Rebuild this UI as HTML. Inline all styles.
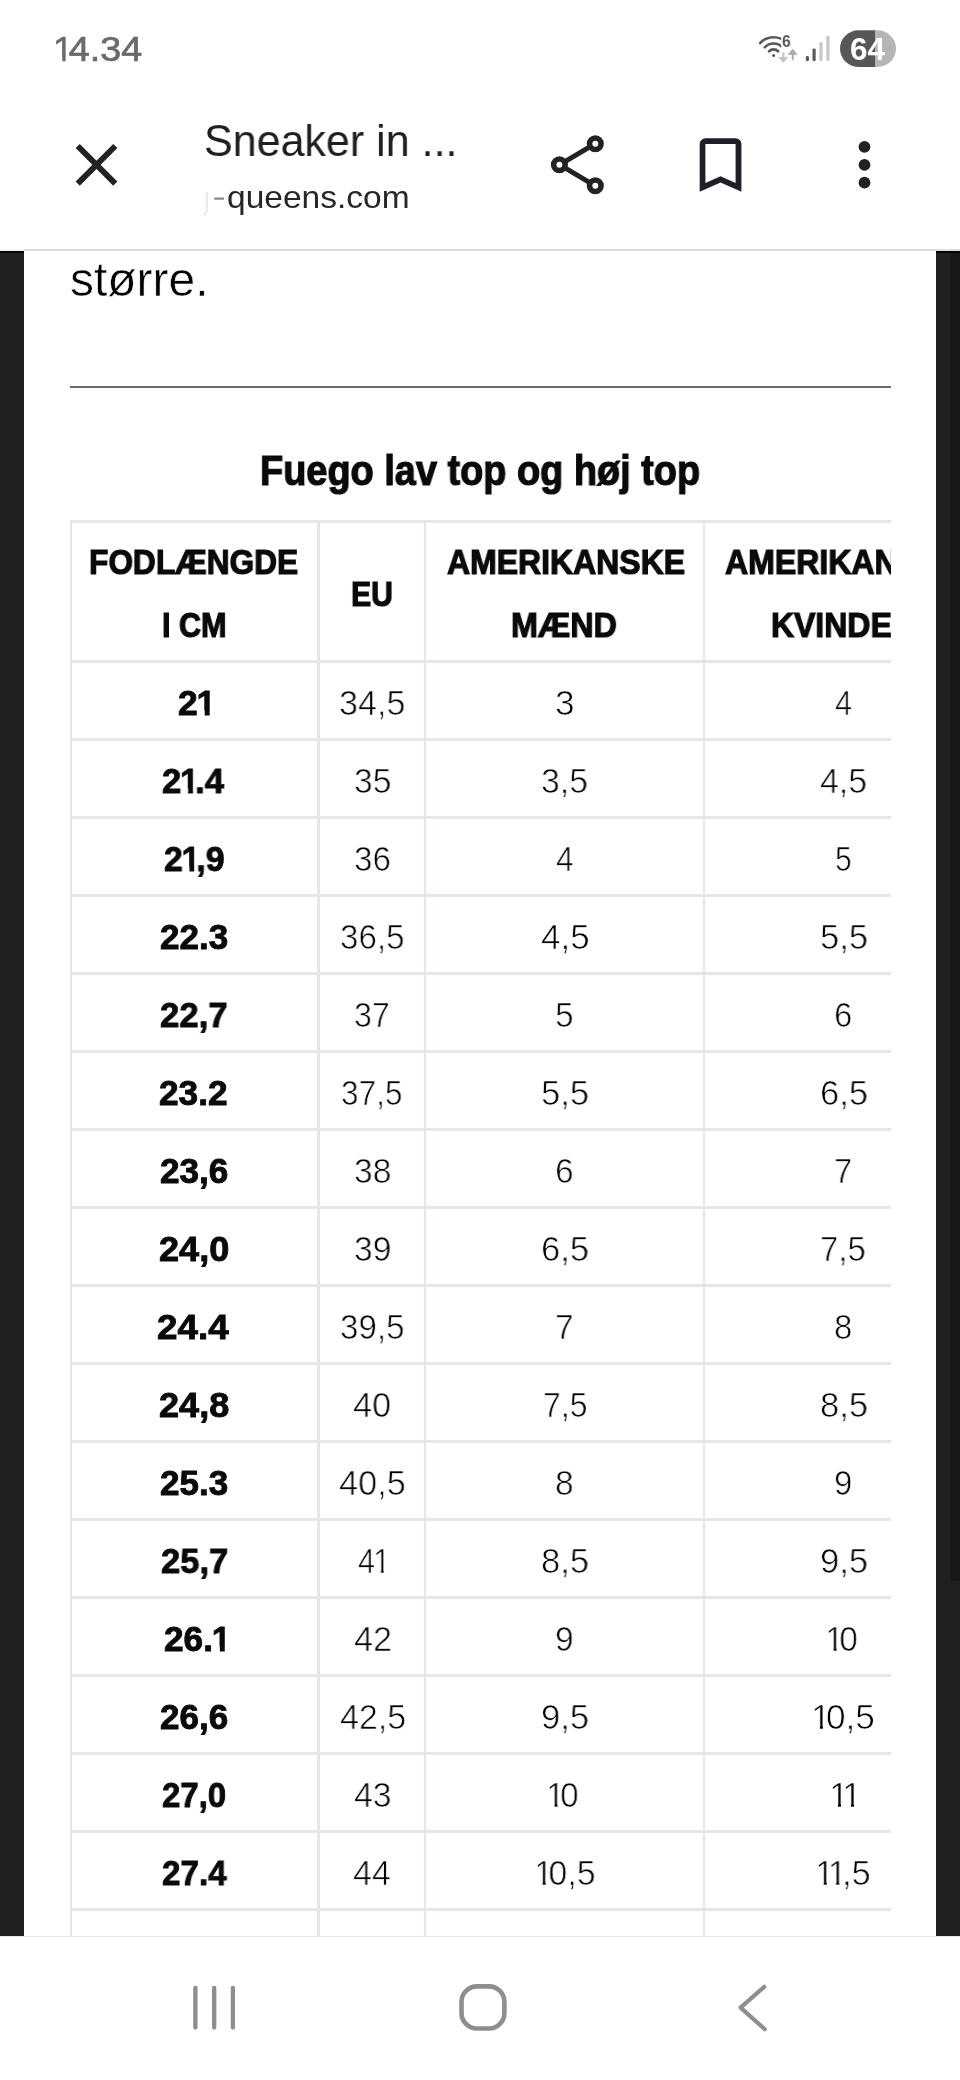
<!DOCTYPE html>
<html><head><meta charset="utf-8"><title>Sneaker in ...</title>
<style>
html,body{margin:0;padding:0;}
body{width:960px;height:2080px;position:relative;overflow:hidden;background:#fff;font-family:"Liberation Sans", sans-serif;}
.t{position:absolute;white-space:nowrap;line-height:1;transform-origin:0 0;will-change:transform;font-family:"Liberation Sans", sans-serif;}
.o,.ob{display:inline-block;}
.o{margin:0 -0.135em 0 -0.055em;clip-path:polygon(0 0,0.3395em 0,0.3395em 1.2em,0.2505em 1.2em,0.2505em 0.757em,0 0.757em);}
.ob{margin:0 -0.12em 0 -0.035em;clip-path:polygon(0 0,0.3705em 0,0.3705em 1.2em,0.2325em 1.2em,0.2325em 0.722em,0 0.722em);}
.ln{position:absolute;background:#e3e7e8;}
.abs{position:absolute;}
</style></head><body>
<!-- side bars -->
<div class="abs" style="left:0;top:251px;width:24px;height:1685px;background:#202020"></div>
<div class="abs" style="left:0;top:251px;width:24px;height:2px;background:#050505"></div>
<div class="abs" style="left:936px;top:251px;width:24px;height:1685px;background:#202020"></div>
<div class="abs" style="left:949.5px;top:251px;width:11px;height:1330px;background:#181818"></div>
<div class="abs" style="left:936px;top:251px;width:24px;height:2px;background:#050505"></div>
<!-- header divider -->
<div class="abs" style="left:0;top:248.6px;width:960px;height:2.6px;background:#d9dde3"></div>
<div class="abs" style="left:0;top:248.6px;width:24px;height:2.6px;background:#f0f2f5"></div>
<!-- hr -->
<div class="abs" style="left:70px;top:385.5px;width:820.5px;height:2.4px;background:#6c6c63"></div>
<!-- table clip -->
<div class="abs" style="left:0;top:0;width:890.6px;height:1936px;overflow:hidden">
<div class="ln" style="left:70px;top:519.8px;width:830px;height:2.8px"></div>
<div class="ln" style="left:70px;top:659.9px;width:830px;height:2.8px"></div>
<div class="ln" style="left:70px;top:737.9px;width:830px;height:2.8px"></div>
<div class="ln" style="left:70px;top:815.9px;width:830px;height:2.8px"></div>
<div class="ln" style="left:70px;top:893.9px;width:830px;height:2.8px"></div>
<div class="ln" style="left:70px;top:971.9px;width:830px;height:2.8px"></div>
<div class="ln" style="left:70px;top:1049.9px;width:830px;height:2.8px"></div>
<div class="ln" style="left:70px;top:1127.9px;width:830px;height:2.8px"></div>
<div class="ln" style="left:70px;top:1205.9px;width:830px;height:2.8px"></div>
<div class="ln" style="left:70px;top:1283.9px;width:830px;height:2.8px"></div>
<div class="ln" style="left:70px;top:1361.9px;width:830px;height:2.8px"></div>
<div class="ln" style="left:70px;top:1439.9px;width:830px;height:2.8px"></div>
<div class="ln" style="left:70px;top:1517.9px;width:830px;height:2.8px"></div>
<div class="ln" style="left:70px;top:1595.9px;width:830px;height:2.8px"></div>
<div class="ln" style="left:70px;top:1673.9px;width:830px;height:2.8px"></div>
<div class="ln" style="left:70px;top:1751.9px;width:830px;height:2.8px"></div>
<div class="ln" style="left:70px;top:1829.9px;width:830px;height:2.8px"></div>
<div class="ln" style="left:70px;top:1907.9px;width:830px;height:2.8px"></div>
<div class="ln" style="left:69.6px;top:520px;width:2.8px;height:1420px"></div>
<div class="ln" style="left:317.2px;top:520px;width:2.8px;height:1420px"></div>
<div class="ln" style="left:423.7px;top:520px;width:2.8px;height:1420px"></div>
<div class="ln" style="left:702.7px;top:520px;width:2.8px;height:1420px"></div>
<span class="t" style="left:89.49px;top:544.17px;font-size:35px;color:#0a0a0a;transform:scaleX(0.9038);-webkit-text-stroke:1.2px #0a0a0a;font-weight:bold;">FODLÆNGDE</span>
<span class="t" style="left:161.86px;top:606.87px;font-size:35px;color:#0a0a0a;transform:scaleX(0.8720);-webkit-text-stroke:1.2px #0a0a0a;font-weight:bold;">I CM</span>
<span class="t" style="left:350.58px;top:576.17px;font-size:35px;color:#0a0a0a;transform:scaleX(0.8623);-webkit-text-stroke:1.2px #0a0a0a;font-weight:bold;">EU</span>
<span class="t" style="left:446.60px;top:544.17px;font-size:35px;color:#0a0a0a;transform:scaleX(0.9135);-webkit-text-stroke:1.2px #0a0a0a;font-weight:bold;">AMERIKANSKE</span>
<span class="t" style="left:511.25px;top:606.87px;font-size:35px;color:#0a0a0a;transform:scaleX(0.9225);-webkit-text-stroke:1.2px #0a0a0a;font-weight:bold;">MÆND</span>
<span class="t" style="left:724.80px;top:544.17px;font-size:35px;color:#0a0a0a;transform:scaleX(0.9158);-webkit-text-stroke:1.2px #0a0a0a;font-weight:bold;">AMERIKANSKE</span>
<span class="t" style="left:771.27px;top:606.87px;font-size:35px;color:#0a0a0a;transform:scaleX(0.9134);-webkit-text-stroke:1.2px #0a0a0a;font-weight:bold;">KVINDER</span>
<span class="t" style="left:178.44px;top:685.37px;font-size:35px;color:#0a0a0a;transform:scaleX(1.0136);-webkit-text-stroke:0.9px #0a0a0a;font-weight:bold;">2<span class="ob">1</span></span>
<span class="t" style="left:339.43px;top:685.37px;font-size:35px;color:#000;transform:scaleX(0.9733);-webkit-text-stroke:0.7px #fff;">34,5</span>
<span class="t" style="left:554.69px;top:685.37px;font-size:35px;color:#000;transform:scaleX(1.0059);-webkit-text-stroke:0.7px #fff;">3</span>
<span class="t" style="left:834.70px;top:685.37px;font-size:35px;color:#000;transform:scaleX(0.8737);-webkit-text-stroke:0.7px #fff;">4</span>
<span class="t" style="left:161.96px;top:763.37px;font-size:35px;color:#0a0a0a;transform:scaleX(0.9899);-webkit-text-stroke:0.9px #0a0a0a;font-weight:bold;">2<span class="ob">1</span>.4</span>
<span class="t" style="left:353.74px;top:763.37px;font-size:35px;color:#000;transform:scaleX(0.9598);-webkit-text-stroke:0.7px #fff;">35</span>
<span class="t" style="left:541.23px;top:763.37px;font-size:35px;color:#000;transform:scaleX(0.9656);-webkit-text-stroke:0.7px #fff;">3,5</span>
<span class="t" style="left:819.70px;top:763.37px;font-size:35px;color:#000;transform:scaleX(0.9663);-webkit-text-stroke:0.7px #fff;">4,5</span>
<span class="t" style="left:163.88px;top:841.37px;font-size:35px;color:#0a0a0a;transform:scaleX(0.9652);-webkit-text-stroke:0.9px #0a0a0a;font-weight:bold;">2<span class="ob">1</span>,9</span>
<span class="t" style="left:353.75px;top:841.37px;font-size:35px;color:#000;transform:scaleX(0.9488);-webkit-text-stroke:0.7px #fff;">36</span>
<span class="t" style="left:555.70px;top:841.37px;font-size:35px;color:#000;transform:scaleX(0.9000);-webkit-text-stroke:0.7px #fff;">4</span>
<span class="t" style="left:834.84px;top:841.37px;font-size:35px;color:#000;transform:scaleX(0.8588);-webkit-text-stroke:0.7px #fff;">5</span>
<span class="t" style="left:159.75px;top:919.37px;font-size:35px;color:#0a0a0a;transform:scaleX(1.0022);-webkit-text-stroke:0.9px #0a0a0a;font-weight:bold;">22.3</span>
<span class="t" style="left:339.75px;top:919.37px;font-size:35px;color:#000;transform:scaleX(0.9459);-webkit-text-stroke:0.7px #fff;">36,5</span>
<span class="t" style="left:541.40px;top:919.37px;font-size:35px;color:#000;transform:scaleX(1.0002);-webkit-text-stroke:0.7px #fff;">4,5</span>
<span class="t" style="left:819.51px;top:919.37px;font-size:35px;color:#000;transform:scaleX(0.9872);-webkit-text-stroke:0.7px #fff;">5,5</span>
<span class="t" style="left:160.46px;top:997.37px;font-size:35px;color:#0a0a0a;transform:scaleX(0.9915);-webkit-text-stroke:0.9px #0a0a0a;font-weight:bold;">22,7</span>
<span class="t" style="left:354.38px;top:997.37px;font-size:35px;color:#000;transform:scaleX(0.9159);-webkit-text-stroke:0.7px #fff;">37</span>
<span class="t" style="left:554.74px;top:997.37px;font-size:35px;color:#000;transform:scaleX(0.9588);-webkit-text-stroke:0.7px #fff;">5</span>
<span class="t" style="left:834.16px;top:997.37px;font-size:35px;color:#000;transform:scaleX(0.9412);-webkit-text-stroke:0.7px #fff;">6</span>
<span class="t" style="left:159.44px;top:1075.37px;font-size:35px;color:#0a0a0a;transform:scaleX(1.0067);-webkit-text-stroke:0.9px #0a0a0a;font-weight:bold;">23.2</span>
<span class="t" style="left:341.30px;top:1075.37px;font-size:35px;color:#000;transform:scaleX(0.9002);-webkit-text-stroke:0.7px #fff;">37,5</span>
<span class="t" style="left:541.21px;top:1075.37px;font-size:35px;color:#000;transform:scaleX(0.9872);-webkit-text-stroke:0.7px #fff;">5,5</span>
<span class="t" style="left:819.51px;top:1075.37px;font-size:35px;color:#000;transform:scaleX(0.9872);-webkit-text-stroke:0.7px #fff;">6,5</span>
<span class="t" style="left:159.75px;top:1153.37px;font-size:35px;color:#0a0a0a;transform:scaleX(1.0037);-webkit-text-stroke:0.9px #0a0a0a;font-weight:bold;">23,6</span>
<span class="t" style="left:353.74px;top:1153.37px;font-size:35px;color:#000;transform:scaleX(0.9598);-webkit-text-stroke:0.7px #fff;">38</span>
<span class="t" style="left:554.74px;top:1153.37px;font-size:35px;color:#000;transform:scaleX(0.9588);-webkit-text-stroke:0.7px #fff;">6</span>
<span class="t" style="left:834.16px;top:1153.37px;font-size:35px;color:#000;transform:scaleX(0.9412);-webkit-text-stroke:0.7px #fff;">7</span>
<span class="t" style="left:158.82px;top:1231.37px;font-size:35px;color:#0a0a0a;transform:scaleX(1.0307);-webkit-text-stroke:0.9px #0a0a0a;font-weight:bold;">24,0</span>
<span class="t" style="left:353.74px;top:1231.37px;font-size:35px;color:#000;transform:scaleX(0.9598);-webkit-text-stroke:0.7px #fff;">39</span>
<span class="t" style="left:541.21px;top:1231.37px;font-size:35px;color:#000;transform:scaleX(0.9872);-webkit-text-stroke:0.7px #fff;">6,5</span>
<span class="t" style="left:820.46px;top:1231.37px;font-size:35px;color:#000;transform:scaleX(0.9418);-webkit-text-stroke:0.7px #fff;">7,5</span>
<span class="t" style="left:157.40px;top:1309.37px;font-size:35px;color:#0a0a0a;transform:scaleX(1.0509);-webkit-text-stroke:0.9px #0a0a0a;font-weight:bold;">24.4</span>
<span class="t" style="left:339.75px;top:1309.37px;font-size:35px;color:#000;transform:scaleX(0.9459);-webkit-text-stroke:0.7px #fff;">39,5</span>
<span class="t" style="left:554.74px;top:1309.37px;font-size:35px;color:#000;transform:scaleX(0.9588);-webkit-text-stroke:0.7px #fff;">7</span>
<span class="t" style="left:834.16px;top:1309.37px;font-size:35px;color:#000;transform:scaleX(0.9412);-webkit-text-stroke:0.7px #fff;">8</span>
<span class="t" style="left:158.82px;top:1387.37px;font-size:35px;color:#0a0a0a;transform:scaleX(1.0307);-webkit-text-stroke:0.9px #0a0a0a;font-weight:bold;">24,8</span>
<span class="t" style="left:352.70px;top:1387.37px;font-size:35px;color:#000;transform:scaleX(0.9775);-webkit-text-stroke:0.7px #fff;">40</span>
<span class="t" style="left:542.54px;top:1387.37px;font-size:35px;color:#000;transform:scaleX(0.9147);-webkit-text-stroke:0.7px #fff;">7,5</span>
<span class="t" style="left:819.51px;top:1387.37px;font-size:35px;color:#000;transform:scaleX(0.9872);-webkit-text-stroke:0.7px #fff;">8,5</span>
<span class="t" style="left:159.75px;top:1465.37px;font-size:35px;color:#0a0a0a;transform:scaleX(1.0022);-webkit-text-stroke:0.9px #0a0a0a;font-weight:bold;">25.3</span>
<span class="t" style="left:339.10px;top:1465.37px;font-size:35px;color:#000;transform:scaleX(0.9782);-webkit-text-stroke:0.7px #fff;">40,5</span>
<span class="t" style="left:554.74px;top:1465.37px;font-size:35px;color:#000;transform:scaleX(0.9588);-webkit-text-stroke:0.7px #fff;">8</span>
<span class="t" style="left:834.16px;top:1465.37px;font-size:35px;color:#000;transform:scaleX(0.9412);-webkit-text-stroke:0.7px #fff;">9</span>
<span class="t" style="left:160.71px;top:1543.37px;font-size:35px;color:#0a0a0a;transform:scaleX(0.9862);-webkit-text-stroke:0.9px #0a0a0a;font-weight:bold;">25,7</span>
<span class="t" style="left:358.45px;top:1543.37px;font-size:35px;color:#000;transform:scaleX(0.8706);-webkit-text-stroke:0.7px #fff;">4<span class="o">1</span></span>
<span class="t" style="left:541.21px;top:1543.37px;font-size:35px;color:#000;transform:scaleX(0.9872);-webkit-text-stroke:0.7px #fff;">8,5</span>
<span class="t" style="left:819.51px;top:1543.37px;font-size:35px;color:#000;transform:scaleX(0.9872);-webkit-text-stroke:0.7px #fff;">9,5</span>
<span class="t" style="left:163.84px;top:1621.37px;font-size:35px;color:#0a0a0a;transform:scaleX(1.0054);-webkit-text-stroke:0.9px #0a0a0a;font-weight:bold;">26.<span class="ob">1</span></span>
<span class="t" style="left:353.70px;top:1621.37px;font-size:35px;color:#000;transform:scaleX(0.9769);-webkit-text-stroke:0.7px #fff;">42</span>
<span class="t" style="left:554.74px;top:1621.37px;font-size:35px;color:#000;transform:scaleX(0.9588);-webkit-text-stroke:0.7px #fff;">9</span>
<span class="t" style="left:827.33px;top:1621.37px;font-size:35px;color:#000;transform:scaleX(0.9579);-webkit-text-stroke:0.7px #fff;"><span class="o">1</span>0</span>
<span class="t" style="left:160.05px;top:1699.37px;font-size:35px;color:#0a0a0a;transform:scaleX(0.9977);-webkit-text-stroke:0.9px #0a0a0a;font-weight:bold;">26,6</span>
<span class="t" style="left:339.70px;top:1699.37px;font-size:35px;color:#000;transform:scaleX(0.9692);-webkit-text-stroke:0.7px #fff;">42,5</span>
<span class="t" style="left:541.21px;top:1699.37px;font-size:35px;color:#000;transform:scaleX(0.9872);-webkit-text-stroke:0.7px #fff;">9,5</span>
<span class="t" style="left:812.85px;top:1699.37px;font-size:35px;color:#000;transform:scaleX(1.0073);-webkit-text-stroke:0.7px #fff;"><span class="o">1</span>0,5</span>
<span class="t" style="left:162.01px;top:1777.37px;font-size:35px;color:#0a0a0a;transform:scaleX(0.9392);-webkit-text-stroke:0.9px #0a0a0a;font-weight:bold;">27,0</span>
<span class="t" style="left:353.70px;top:1777.37px;font-size:35px;color:#000;transform:scaleX(0.9609);-webkit-text-stroke:0.7px #fff;">43</span>
<span class="t" style="left:548.33px;top:1777.37px;font-size:35px;color:#000;transform:scaleX(0.9513);-webkit-text-stroke:0.7px #fff;"><span class="o">1</span>0</span>
<span class="t" style="left:831.25px;top:1777.37px;font-size:35px;color:#000;transform:scaleX(1.0131);-webkit-text-stroke:0.7px #fff;"><span class="o">1</span><span class="o">1</span></span>
<span class="t" style="left:161.50px;top:1855.37px;font-size:35px;color:#0a0a0a;transform:scaleX(0.9475);-webkit-text-stroke:0.9px #0a0a0a;font-weight:bold;">27.4</span>
<span class="t" style="left:353.10px;top:1855.37px;font-size:35px;color:#000;transform:scaleX(0.9671);-webkit-text-stroke:0.7px #fff;">44</span>
<span class="t" style="left:535.81px;top:1855.37px;font-size:35px;color:#000;transform:scaleX(0.9706);-webkit-text-stroke:0.7px #fff;"><span class="o">1</span>0,5</span>
<span class="t" style="left:817.05px;top:1855.37px;font-size:35px;color:#000;transform:scaleX(0.9746);-webkit-text-stroke:0.7px #fff;"><span class="o">1</span><span class="o">1</span>,5</span>
</div>
<!-- bottom nav -->
<div class="abs" style="left:0;top:1936px;width:960px;height:144px;background:#fff"></div>
<div class="abs" style="left:0;top:1936px;width:960px;height:1.2px;background:#e6e6e6"></div>
<svg class="abs" style="left:0;top:0" width="960" height="2080" viewBox="0 0 960 2080">
<!-- wifi -->
<g fill="none" stroke="#585858" stroke-width="2.6" stroke-linecap="round">
<path d="M 760.2 43.0 A 18.4 18.4 0 0 1 787.0 43.0"/>
<path d="M 764.7 47.3 A 12.2 12.2 0 0 1 782.5 47.3"/>
<path d="M 769.0 51.4 A 6.3 6.3 0 0 1 778.2 51.4"/>
</g>
<circle cx="773.6" cy="55.6" r="1.5" fill="#585858"/>
<rect x="781.2" y="30" width="16" height="19.5" fill="#fff"/>
<!-- data arrows -->
<path d="M 783.3 53.2 V 59" stroke="#c4c4c4" stroke-width="2" stroke-linecap="round" fill="none"/>
<path d="M 779.0 57.4 H 787.6 L 783.3 62.6 Z" fill="#c4c4c4" stroke="#c4c4c4" stroke-width="0.8" stroke-linejoin="round"/>
<path d="M 792.7 59.2 V 53" stroke="#ababab" stroke-width="2" stroke-linecap="round" fill="none"/>
<path d="M 788.4 54.4 H 797.0 L 792.7 49.2 Z" fill="#ababab" stroke="#ababab" stroke-width="0.8" stroke-linejoin="round"/>
<!-- signal -->
<rect x="805.8" y="56" width="3.2" height="5.2" rx="1.4" fill="#5a5a5a"/>
<rect x="812.5" y="48.4" width="3.2" height="12.8" rx="1.4" fill="#5a5a5a"/>
<rect x="819.4" y="41.9" width="3.2" height="19.3" rx="1.4" fill="#c8c8c8"/>
<rect x="826.3" y="35.8" width="3.2" height="25.4" rx="1.4" fill="#c8c8c8"/>
<!-- battery -->
<clipPath id="bat"><rect x="840" y="30.3" width="56" height="36.6" rx="18.3"/></clipPath>
<g clip-path="url(#bat)">
<rect x="840" y="30" width="35" height="38" fill="#575757"/>
<rect x="875" y="30" width="22" height="38" fill="#b6b6b6"/>
</g>
<!-- close X -->
<path d="M 77.7 146 L 115.3 183.6 M 115.3 146 L 77.7 183.6" stroke="#222" stroke-width="5.9" fill="none"/>
<!-- share -->
<g fill="none" stroke="#222">
<path d="M 564.5 161.9 L 590.2 146.7 M 564.5 167.7 L 590.2 182.9" stroke-width="5.0"/>
<circle cx="559.4" cy="164.8" r="5.75" stroke-width="5.6"/>
<circle cx="595.3" cy="143.8" r="5.75" stroke-width="5.6"/>
<circle cx="595.3" cy="185.8" r="5.75" stroke-width="5.6"/>
</g>
<!-- bookmark -->
<path fill="#1e2027" fill-rule="evenodd" d="M 699.7 191.7 V 144 a 5.8 5.8 0 0 1 5.8 -5.8 H 735.6 a 5.8 5.8 0 0 1 5.8 5.8 V 191.7 L 720.55 182.5 Z M 705.4 144 H 735.6 V 183 L 720.55 176.25 L 705.4 183 Z"/>
<!-- kebab -->
<g fill="#222">
<circle cx="864.5" cy="146.9" r="5.9"/>
<circle cx="864.5" cy="164.8" r="5.9"/>
<circle cx="864.5" cy="182.7" r="5.9"/>
</g>
<!-- url fade stub -->
<path d="M 206.8 192 V 209.5 Q 206.8 214 203.5 214.6" fill="none" stroke="#ececec" stroke-width="2.4"/>
<path d="M 214.2 198.6 H 224" stroke="#8c8c8c" stroke-width="2.3" fill="none"/>
<!-- nav -->
<g fill="none" stroke="#8e8e8e" stroke-linecap="round" stroke-linejoin="round">
<path d="M 195.4 1987.8 V 2027.6 M 214.2 1987.8 V 2027.6 M 232.9 1987.8 V 2027.6" stroke-width="4.3"/>
<rect x="461.5" y="1986.4" width="42.9" height="42.1" rx="15.5" stroke-width="4.6"/>
<path d="M 764.2 1986.8 L 740.6 2007.6 L 764.8 2029.2" stroke-width="4.2"/>
</g>
</svg>

<span class="t" style="left:55.35px;top:31.37px;font-size:35px;color:#6a6a6a;transform:scaleX(1.0767);-webkit-text-stroke:0.7px #6a6a6a;"><span class="o">1</span>4.34</span>
<span class="t" style="left:849.80px;top:33.73px;font-size:31.5px;color:#fff;transform:scaleX(0.9995);font-weight:bold;">64</span>
<span class="t" style="left:782.30px;top:32.83px;font-size:16.5px;color:#555;transform:scaleX(0.9444);font-weight:bold;">6</span>
<span class="t" style="left:204.01px;top:119.57px;font-size:43.5px;color:#1f1f1f;transform:scaleX(0.9888);">Sneaker in ...</span>
<span class="t" style="left:227.15px;top:180.71px;font-size:32px;color:#262626;transform:scaleX(1.0473);">queens.com</span>
<span class="t" style="left:69.69px;top:255.78px;font-size:47.5px;color:#000;transform:scaleX(1.0097);-webkit-text-stroke:0.5px #fff;">større.</span>
<span class="t" style="left:259.79px;top:450.44px;font-size:42px;color:#0a0a0a;transform:scaleX(0.9026);-webkit-text-stroke:1.2px #0a0a0a;font-weight:bold;">Fuego lav top og høj top</span>
</body></html>
